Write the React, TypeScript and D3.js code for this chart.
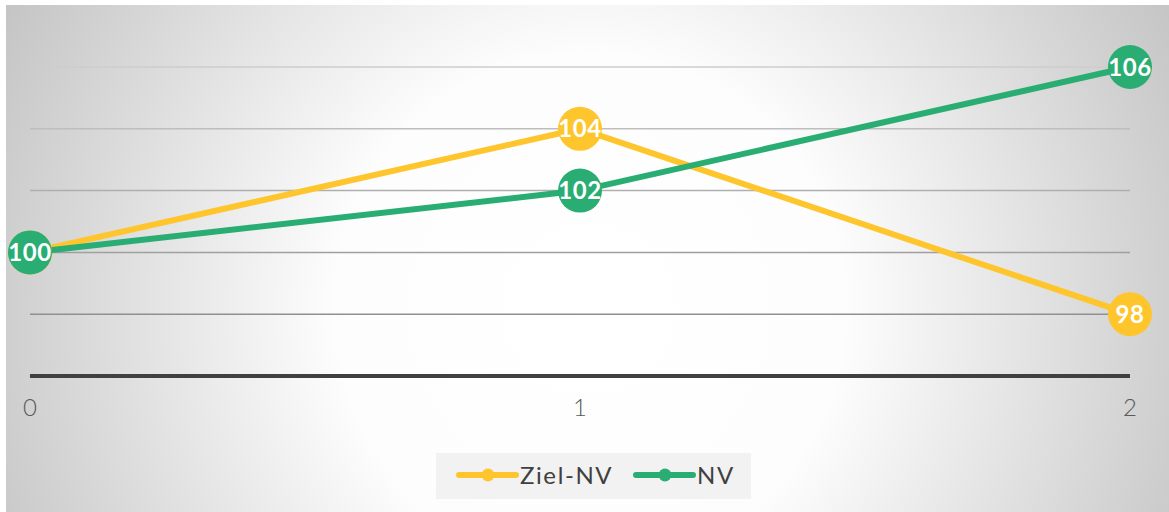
import React from "react";
import * as d3 from "d3";

const categories = [0, 1, 2];
const zielNV = [100, 104, 98];
const nv = [100, 102, 106];
const yTicks = [98, 100, 102, 104, 106];
const seriesNames = ["Ziel-NV", "NV"];
const seriesColors = ["#FFC52C", "#29AD73"];

const W = 1169;
const H = 512;
const FONT = "Lato, 'Open Sans', sans-serif";

export default function App() {
  const x = d3.scaleLinear().domain([0, 2]).range([30, 1130]);
  const y = d3.scaleLinear().domain([96, 106]).range([376, 67]);
  const line = d3
    .line<number>()
    .x((_, i) => x(categories[i]))
    .y((d) => y(d));
  const series = [zielNV, nv];

  return (
    <svg
      width={W}
      height={H}
      style={{ position: "absolute", left: 0, top: 0, background: "#fff" }}
    >
      <defs>
        <radialGradient
          id="bg"
          gradientUnits="userSpaceOnUse"
          cx={590}
          cy={310}
          r={670}
        >
          <stop offset="0%" stopColor="#ffffff" />
          <stop offset="38%" stopColor="#fdfdfd" />
          <stop offset="100%" stopColor="#c3c3c3" />
        </radialGradient>
        <linearGradient
          id="grid"
          gradientUnits="userSpaceOnUse"
          x1="0"
          y1={y(106)}
          x2="0"
          y2={y(98)}
        >
          <stop offset="0%" stopColor="#cdcdcd" />
          <stop offset="100%" stopColor="#909090" />
        </linearGradient>
      </defs>
      <rect x={6} y={5} width={W - 6} height={H - 5} fill="url(#bg)" />
      {yTicks.map((t) => (
        <line
          key={t}
          x1={x(0)}
          x2={x(2)}
          y1={y(t)}
          y2={y(t)}
          stroke="url(#grid)"
          strokeWidth={1.5}
        />
      ))}
      <line
        x1={x(0)}
        x2={x(2)}
        y1={y(96)}
        y2={y(96)}
        stroke="#404040"
        strokeWidth={4}
      />
      {categories.map((c) => (
        <text
          key={c}
          x={x(c)}
          y={416}
          textAnchor="middle"
          fontFamily={FONT}
          fontSize={24}
          fontWeight={300}
          fill="#595959"
        >
          {c}
        </text>
      ))}
      {series.map((s, si) => (
        <path
          key={si}
          d={line(s) || ""}
          fill="none"
          stroke={seriesColors[si]}
          strokeWidth={6}
          strokeLinejoin="round"
        />
      ))}
      {series.map((s, si) =>
        s.map((v, i) => (
          <g key={`${si}-${i}`}>
            <circle cx={x(categories[i])} cy={y(v)} r={22} fill={seriesColors[si]} />
            <text
              x={x(categories[i])}
              y={y(v)}
              dy="0.36em"
              textAnchor="middle"
              fontFamily={FONT}
              fontSize={24}
              fontWeight={700}
              letterSpacing={0.5}
              fill="#ffffff"
            >
              {v}
            </text>
          </g>
        ))
      )}
      <rect x={436} y={453} width={315} height={46} fill="#f2f2f2" />
      {seriesNames.map((n, i) => {
        const x0 = i === 0 ? 459 : 636;
        return (
          <g key={n}>
            <line
              x1={x0}
              x2={x0 + 57}
              y1={475}
              y2={475}
              stroke={seriesColors[i]}
              strokeWidth={6}
              strokeLinecap="round"
            />
            <circle cx={x0 + 29} cy={475} r={6.5} fill={seriesColors[i]} />
            <text
              x={x0 + 61}
              y={483.5}
              fontFamily={FONT}
              fontSize={24}
              fontWeight={400}
              letterSpacing={1.6}
              fill="#404040"
            >
              {n}
            </text>
          </g>
        );
      })}
    </svg>
  );
}
